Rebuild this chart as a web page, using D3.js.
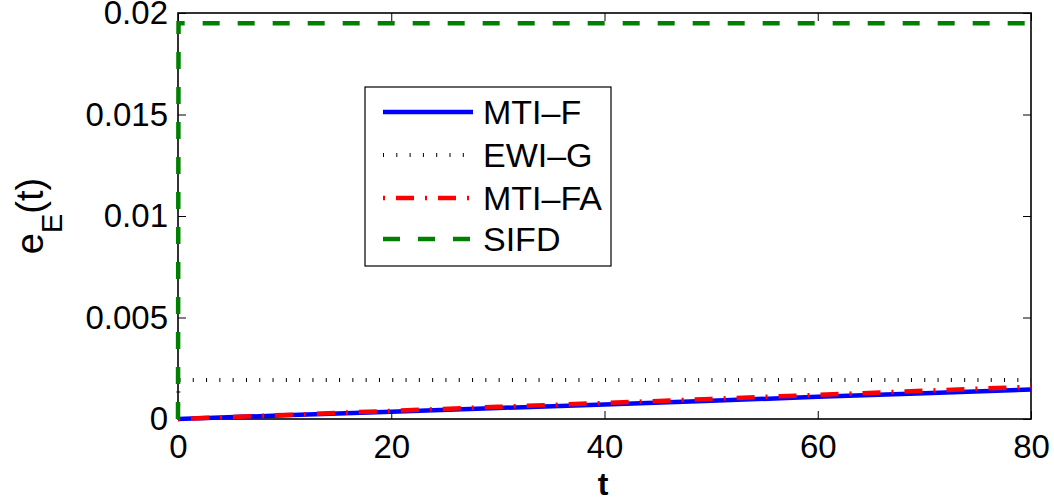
<!DOCTYPE html>
<html>
<head>
<meta charset="utf-8">
<script src="https://cdn.jsdelivr.net/npm/d3@7"></script>
<style>
  html, body { margin: 0; padding: 0; background: #fff; }
  svg { display: block; font-family: "Liberation Sans", Arial, Helvetica, sans-serif; }
</style>
</head>
<body>
<svg id="chart" width="1054" height="499"></svg>
<script>
// Error e_E(t) versus time for four integrators
const timeSamples = [0, 10, 20, 30, 40, 50, 60, 70, 80];
const mtiF  = [0, 0.00018, 0.00036, 0.00054, 0.00072, 0.00090, 0.00109, 0.00127, 0.00145];
const mtiFA = [0, 0.00020, 0.00040, 0.00060, 0.00079, 0.00099, 0.00119, 0.00139, 0.00159];
const ewiTimes  = [0, 0.05, 80];
const ewiG      = [0, 0.00192, 0.00192];
const sifdTimes = [0, 0.05, 80];
const sifd      = [0, 0.0195, 0.0195];

const xTicks = [0, 20, 40, 60, 80];
const yTicks = [0, 0.005, 0.01, 0.015, 0.02];
const yTickLabels = ["0", "0.005", "0.01", "0.015", "0.02"];
const seriesNames = ["MTI\u2013F", "EWI\u2013G", "MTI\u2013FA", "SIFD"];

const svg = d3.select("#chart");
const plotLeft = 178, plotRight = 1031, plotTop = 13, plotBottom = 419;

const x = d3.scaleLinear().domain([0, 80]).range([plotLeft, plotRight]);
const y = d3.scaleLinear().domain([0, 0.02]).range([plotBottom, plotTop]);

const tickLen = 8;
const tickFont = 33;

// axes box
svg.append("rect")
  .attr("x", plotLeft).attr("y", plotTop)
  .attr("width", plotRight - plotLeft).attr("height", plotBottom - plotTop)
  .attr("fill", "none").attr("stroke", "#000").attr("stroke-width", 1.6);

// x axis ticks (inside, bottom and top)
const xAxisBottom = d3.axisBottom(x).tickValues(xTicks).tickSizeInner(-tickLen).tickSizeOuter(0).tickPadding(16);
const gx = svg.append("g").attr("transform", `translate(0,${plotBottom})`).call(xAxisBottom);
gx.select(".domain").remove();
gx.selectAll("line").attr("stroke", "#000").attr("stroke-width", 1);
gx.selectAll("text").attr("font-size", tickFont).attr("fill", "#000")
  .attr("font-family", "Liberation Sans, Arial, sans-serif");

const xAxisTop = d3.axisTop(x).tickValues(xTicks).tickSizeInner(-tickLen).tickSizeOuter(0).tickFormat("");
const gxt = svg.append("g").attr("transform", `translate(0,${plotTop})`).call(xAxisTop);
gxt.select(".domain").remove();
gxt.selectAll("line").attr("stroke", "#000").attr("stroke-width", 1);

// y axis ticks (inside, left and right)
const yAxisLeft = d3.axisLeft(y).tickValues(yTicks).tickSizeInner(-tickLen).tickSizeOuter(0)
  .tickPadding(10).tickFormat((d, i) => yTickLabels[i]);
const gy = svg.append("g").attr("transform", `translate(${plotLeft},0)`).call(yAxisLeft);
gy.select(".domain").remove();
gy.selectAll("line").attr("stroke", "#000").attr("stroke-width", 1);
gy.selectAll("text").attr("font-size", tickFont).attr("fill", "#000")
  .attr("font-family", "Liberation Sans, Arial, sans-serif");

const yAxisRight = d3.axisRight(y).tickValues(yTicks).tickSizeInner(-tickLen).tickSizeOuter(0).tickFormat("");
const gyr = svg.append("g").attr("transform", `translate(${plotRight},0)`).call(yAxisRight);
gyr.select(".domain").remove();
gyr.selectAll("line").attr("stroke", "#000").attr("stroke-width", 1);

// series styles
const styles = [
  { color: "#0000ff", width: 4.5, dash: null },
  { color: "#000000", width: 4,   dash: "1,12.3" },
  { color: "#ff0000", width: 4.5, dash: "2,11,18,11" },
  { color: "#008000", width: 4.5, dash: "17,18" }
];

const line = d3.line().x(d => x(d[0])).y(d => y(d[1]));
const seriesData = [
  d3.zip(timeSamples, mtiF),
  d3.zip(ewiTimes, ewiG),
  d3.zip(timeSamples, mtiFA),
  d3.zip(sifdTimes, sifd)
];

seriesData.forEach((pts, i) => {
  const s = styles[i];
  svg.append("path")
    .attr("d", line(pts))
    .attr("fill", "none")
    .attr("stroke", s.color)
    .attr("stroke-width", s.width)
    .attr("stroke-dasharray", s.dash)
    .attr("stroke-linejoin", "miter");
});

// axis labels
svg.append("text")
  .attr("x", 603).attr("y", 495)
  .attr("text-anchor", "middle")
  .attr("font-size", 32).attr("font-weight", "bold")
  .text("t");

const yl = svg.append("text")
  .attr("transform", `translate(43,${(plotTop + plotBottom) / 2}) rotate(-90)`)
  .attr("text-anchor", "middle")
  .attr("font-size", 38);
yl.append("tspan").text("e");
yl.append("tspan").attr("font-size", 29).attr("dy", 19).text("E");
yl.append("tspan").attr("dy", -19).text("(t)");

// legend
const lg = svg.append("g");
const lgX = 365, lgY = 87, lgW = 246, lgH = 179;
lg.append("rect")
  .attr("x", lgX).attr("y", lgY).attr("width", lgW).attr("height", lgH)
  .attr("fill", "#fff").attr("stroke", "#000").attr("stroke-width", 1.2);
const rowY = [112, 155, 198, 239];
seriesNames.forEach((name, i) => {
  const s = styles[i];
  lg.append("line")
    .attr("x1", 383).attr("x2", 473)
    .attr("y1", rowY[i]).attr("y2", rowY[i])
    .attr("stroke", s.color).attr("stroke-width", s.width)
    .attr("stroke-dasharray", s.dash);
  lg.append("text")
    .attr("x", 483).attr("y", rowY[i])
    .attr("dy", "0.36em")
    .attr("font-size", 34)
    .text(name);
});
</script>
</body>
</html>
